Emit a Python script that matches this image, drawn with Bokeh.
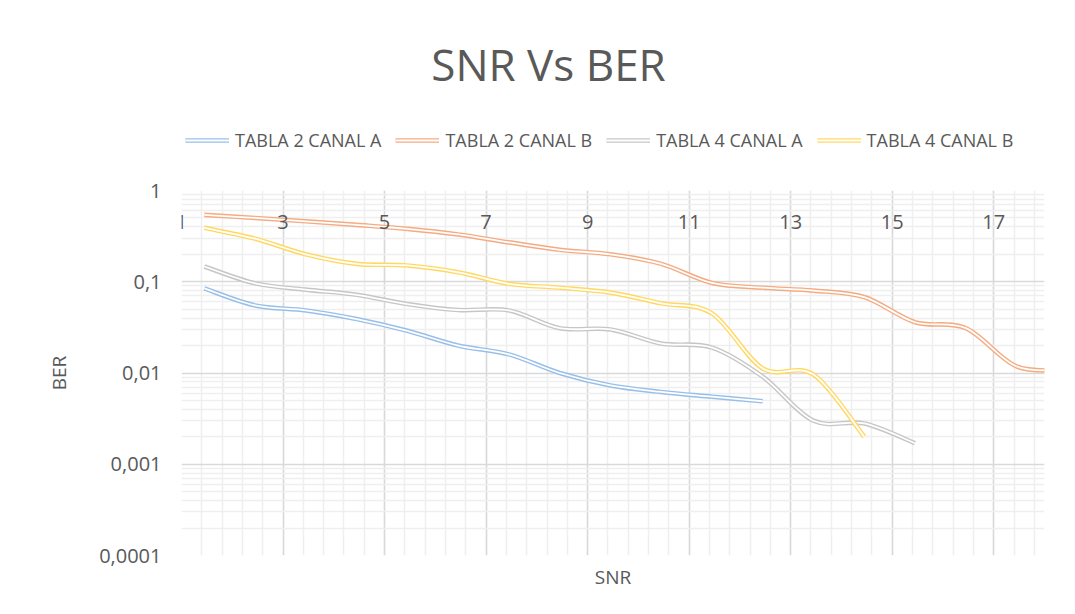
import numpy as np
from bokeh.plotting import figure
from bokeh.layouts import column
from bokeh.models import (Range1d, FixedTicker, CustomJSTickFormatter, Title, Label,
                          Legend, LegendItem, ColumnDataSource)
from bokeh.embed import file_html
from bokeh.resources import INLINE

# ---- data ----
snr_t2a = [1.45, 2.45, 3.45, 4.45, 5.45, 6.45, 7.45, 8.45, 9.45, 10.45, 11.45, 12.45]
ber_t2a = [0.0845, 0.055, 0.0485, 0.039, 0.029, 0.020, 0.016, 0.010, 0.0073, 0.0062, 0.0055, 0.0049]

snr_t2b = [1.45, 2.45, 3.45, 4.45, 5.45, 6.45, 7.45, 8.45, 9.45, 10.45, 11.45, 12.45,
           13.45, 14.45, 15.45, 16.45, 17.45, 18.45]
ber_t2b = [0.54, 0.50, 0.46, 0.42, 0.38, 0.33, 0.27, 0.224, 0.20, 0.157, 0.097, 0.086,
           0.080, 0.068, 0.036, 0.031, 0.0118, 0.0108]

snr_t4a = [1.45, 2.45, 3.45, 4.45, 5.45, 6.45, 7.45, 8.45, 9.45, 10.45, 11.45, 12.45,
           13.45, 14.45, 15.45]
ber_t4a = [0.147, 0.096, 0.082, 0.072, 0.057, 0.049, 0.0485, 0.031, 0.030, 0.021, 0.019,
           0.0091, 0.0030, 0.0028, 0.0017]

snr_t4b = [1.45, 2.45, 3.45, 4.45, 5.45, 6.45, 7.45, 8.45, 9.45, 10.45, 11.45, 12.45,
           13.45, 14.45]
ber_t4b = [0.39, 0.296, 0.20, 0.157, 0.151, 0.127, 0.095, 0.086, 0.076, 0.058, 0.045,
           0.0112, 0.0096, 0.0020]

series_names = ["TABLA 2 CANAL A", "TABLA 2 CANAL B", "TABLA 4 CANAL A", "TABLA 4 CANAL B"]
series_colors = ["#98bfe8", "#f4ab82", "#c6c6c6", "#ffd862"]

x_major = [1, 3, 5, 7, 9, 11, 13, 15, 17]
y_major = [0.0001, 0.001, 0.01, 0.1, 1]

TITLE = "SNR Vs BER"
FONT = "Open Sans"
TXT = "#595959"
W = 1067
HEAD_H = 178


def smooth_source(xs, ys):
    """Cubic Bezier segments (Excel-style smoothing) through the data points."""
    x = np.asarray(xs, dtype=float)
    ly = np.log10(np.asarray(ys, dtype=float))
    xp = np.concatenate([[x[0]], x, [x[-1]]])
    yp = np.concatenate([[ly[0]], ly, [ly[-1]]])
    n = len(x)
    d = dict(x0=[], y0=[], x1=[], y1=[], cx0=[], cy0=[], cx1=[], cy1=[])
    for i in range(n - 1):
        d["x0"].append(x[i]); d["y0"].append(10 ** ly[i])
        d["x1"].append(x[i + 1]); d["y1"].append(10 ** ly[i + 1])
        d["cx0"].append(x[i] + (xp[i + 2] - xp[i]) / 6.0)
        d["cy0"].append(10 ** (ly[i] + (yp[i + 2] - yp[i]) / 6.0))
        d["cx1"].append(x[i + 1] - (xp[i + 3] - xp[i + 1]) / 6.0)
        d["cy1"].append(10 ** (ly[i + 1] - (yp[i + 3] - yp[i + 1]) / 6.0))
    return ColumnDataSource(d)


# ---------------- header: title + legend ----------------
# its frame is aligned with the chart frame (x 181..1044) and sits below an
# empty title strip (y 37..178), so the ranges below map to page pixels.
head = figure(width=W, height=HEAD_H, output_backend="svg", toolbar_location=None,
              x_range=Range1d(181, 1044), y_range=Range1d(HEAD_H, 37),
              x_axis_type=None, y_axis_type=None, min_border=0)
head.outline_line_color = None
head.background_fill_color = "white"
head.border_fill_color = "white"
head.add_layout(Label(x=548, y=87, text=TITLE, text_align="center",
                      text_baseline="alphabetic", text_font=FONT,
                      text_font_size="44px", text_color=TXT))

# ---------------- main chart ----------------
p = figure(width=W, height=614 - HEAD_H, output_backend="svg", toolbar_location=None,
           x_range=Range1d(1, 18), y_range=Range1d(0.0001, 1), y_axis_type="log",
           min_border_left=181, min_border_right=23, min_border_bottom=59,
           min_border_top=12)
p.outline_line_color = None
p.background_fill_color = "white"
p.border_fill_color = "white"

# x axis: labels drawn just below the y=1 line
xt = FixedTicker(ticks=x_major,
                 minor_ticks=[round(1 + 0.4 * k, 2) for k in range(0, 43)])
xa = p.xaxis[0]
xa.ticker = xt
xa.fixed_location = 1
xa.axis_line_color = None
xa.major_tick_line_color = None
xa.minor_tick_line_color = None
xa.major_label_standoff = 18
xa.major_label_text_font = FONT
xa.major_label_text_font_size = "20px"
xa.major_label_text_color = TXT

xlab = Title(text="SNR", align="center", text_font=FONT, text_font_size="19px",
             text_font_style="normal", text_color=TXT, standoff=12)
p.add_layout(xlab, "below")

# y axis
yt = FixedTicker(ticks=y_major,
                 minor_ticks=[k * 10 ** e for e in range(-4, 0) for k in range(2, 10)])
ya = p.yaxis[0]
ya.ticker = yt
ya.formatter = CustomJSTickFormatter(code="return String(tick).replace('.', ',');")
ya.axis_line_color = None
ya.major_tick_line_color = None
ya.minor_tick_line_color = None
ya.major_tick_out = 0
ya.minor_tick_out = 0
ya.major_label_standoff = 20
ya.major_label_text_font = FONT
ya.major_label_text_font_size = "20px"
ya.major_label_text_color = TXT
ya.axis_label = "BER"
ya.axis_label_standoff = 24
ya.axis_label_text_font = FONT
ya.axis_label_text_font_size = "19px"
ya.axis_label_text_font_style = "normal"
ya.axis_label_text_color = TXT

# grids
for g in (p.xgrid[0], p.ygrid[0]):
    g.grid_line_color = "#d9d9d9"
    g.grid_line_width = 1.5
    g.minor_grid_line_color = "#efefef"
    g.minor_grid_line_width = 1.5
p.xgrid[0].ticker = xt
p.ygrid[0].ticker = yt

# series (double line: colour stroke with a thin white core)
all_x = [snr_t2a, snr_t2b, snr_t4a, snr_t4b]
all_y = [ber_t2a, ber_t2b, ber_t4a, ber_t4b]
items = []
for name, col, xs, ys in zip(series_names, series_colors, all_x, all_y):
    src = smooth_source(xs, ys)
    kw = dict(x0="x0", y0="y0", x1="x1", y1="y1", cx0="cx0", cy0="cy0",
              cx1="cx1", cy1="cy1", source=src)
    p.bezier(line_color=col, line_width=4.6, **kw)
    p.bezier(line_color="white", line_width=1.8, **kw)
    # same series in the header (outside its visible range) to key the legend
    h1 = head.bezier(line_color=col, line_width=4.6, **kw)
    h2 = head.bezier(line_color="white", line_width=1.8, **kw)
    items.append(LegendItem(label=name, renderers=[h1, h2]))

legend = Legend(items=items, orientation="horizontal", location=(4, 26),
                glyph_width=44, glyph_height=20, label_standoff=6, spacing=14,
                padding=0, margin=0, border_line_color=None,
                background_fill_alpha=0, label_text_font=FONT,
                label_text_font_size="18px", label_text_color=TXT)
head.add_layout(legend, "center")

layout = column(head, p, spacing=0)
open("out.html", "w").write(file_html(layout, INLINE))
